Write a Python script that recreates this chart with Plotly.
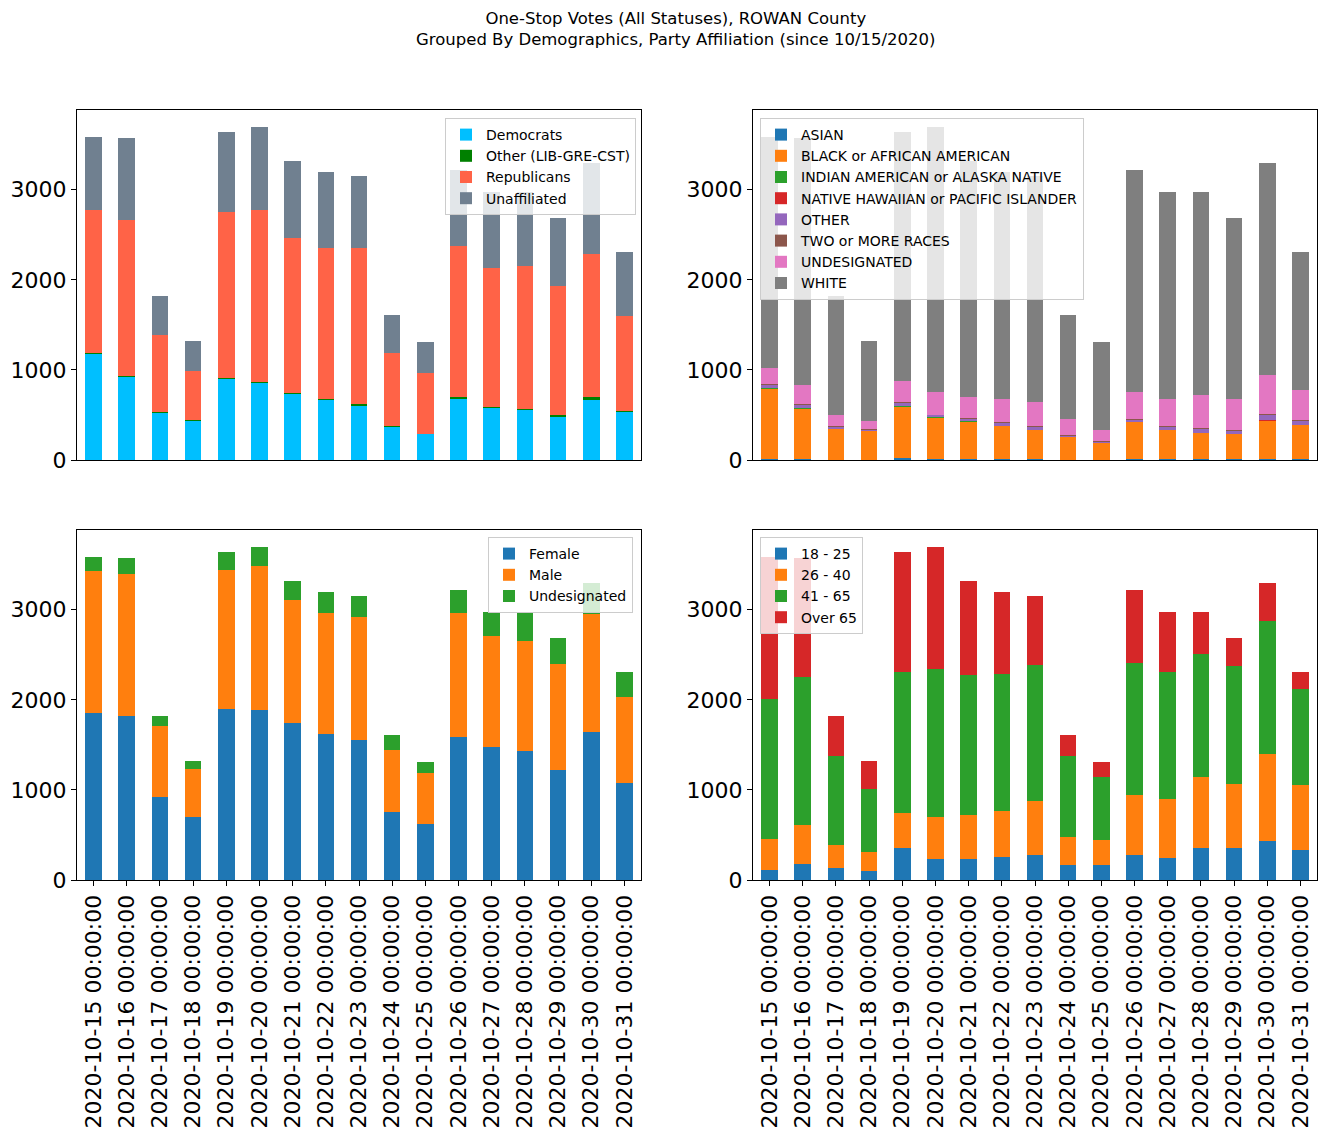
import plotly.graph_objects as go

dates = ["2020-10-15 00:00:00", "2020-10-16 00:00:00", "2020-10-17 00:00:00",
         "2020-10-18 00:00:00", "2020-10-19 00:00:00", "2020-10-20 00:00:00",
         "2020-10-21 00:00:00", "2020-10-22 00:00:00", "2020-10-23 00:00:00",
         "2020-10-24 00:00:00", "2020-10-25 00:00:00", "2020-10-26 00:00:00",
         "2020-10-27 00:00:00", "2020-10-28 00:00:00", "2020-10-29 00:00:00",
         "2020-10-30 00:00:00", "2020-10-31 00:00:00"]

# Party affiliation
democrats = [1181, 926, 526, 437, 904, 859, 733, 667, 600, 370, 289, 678, 578, 559, 478, 667, 533]
other_party = [12, 11, 11, 4, 11, 11, 15, 11, 22, 4, 4, 22, 11, 11, 26, 33, 15]
republicans = [1585, 1730, 856, 552, 1833, 1900, 1711, 1678, 1726, 819, 677, 1670, 1544, 1578, 1422, 1589, 1052]
unaffiliated = [811, 911, 429, 329, 896, 930, 863, 844, 808, 418, 341, 852, 845, 830, 763, 1011, 711]

# Race
asian = [15, 11, 4, 4, 26, 11, 11, 11, 11, 4, 3, 11, 11, 11, 11, 11, 11]
black = [778, 559, 344, 322, 567, 459, 415, 367, 322, 255, 190, 411, 322, 289, 278, 426, 378]
indian = [2, 8, 1, 1, 11, 11, 11, 2, 2, 1, 1, 3, 2, 2, 2, 2, 2]
hawaiian = [0, 0, 1, 0, 1, 0, 1, 0, 0, 0, 0, 1, 0, 0, 0, 1, 0]
other_race = [38, 41, 20, 10, 28, 19, 21, 35, 32, 10, 10, 22, 32, 46, 35, 60, 42]
two_more = [15, 7, 4, 4, 11, 4, 8, 11, 11, 11, 4, 11, 11, 11, 11, 11, 11]
undesignated_race = [174, 207, 126, 96, 234, 252, 233, 252, 266, 178, 129, 297, 300, 363, 341, 433, 334]
white = [2567, 2745, 1322, 885, 2766, 2944, 2622, 2522, 2512, 1152, 974, 2466, 2300, 2256, 2011, 2356, 1533]

# Gender
female = [1856, 1822, 922, 700, 1900, 1889, 1744, 1622, 1556, 756, 622, 1589, 1478, 1433, 1222, 1644, 1078]
male = [1577, 1578, 789, 533, 1544, 1600, 1367, 1345, 1366, 688, 567, 1378, 1233, 1223, 1178, 1312, 955]
undesignated_gender = [156, 178, 111, 89, 200, 211, 211, 233, 234, 167, 122, 255, 267, 322, 289, 344, 278]

# Age
age_18_25 = [111, 178, 133, 100, 356, 233, 233, 256, 278, 167, 167, 278, 244, 356, 356, 433, 333]
age_26_40 = [345, 433, 256, 211, 388, 467, 489, 511, 600, 311, 277, 666, 656, 788, 711, 967, 723]
age_41_65 = [1555, 1637, 989, 700, 1567, 1644, 1556, 1522, 1511, 900, 700, 1467, 1411, 1367, 1311, 1478, 1063]
age_over_65 = [1578, 1330, 444, 311, 1333, 1356, 1044, 911, 767, 233, 167, 811, 667, 467, 311, 422, 192]

panels = [
    ("x", "y", "legend", [
        ("Democrats", democrats, "#00BFFF"),
        ("Other (LIB-GRE-CST)", other_party, "#008000"),
        ("Republicans", republicans, "#FF6347"),
        ("Unaffiliated", unaffiliated, "#708090"),
    ]),
    ("x2", "y2", "legend2", [
        ("ASIAN", asian, "#1f77b4"),
        ("BLACK or AFRICAN AMERICAN", black, "#ff7f0e"),
        ("INDIAN AMERICAN or ALASKA NATIVE", indian, "#2ca02c"),
        ("NATIVE HAWAIIAN or PACIFIC ISLANDER", hawaiian, "#d62728"),
        ("OTHER", other_race, "#9467bd"),
        ("TWO or MORE RACES", two_more, "#8c564b"),
        ("UNDESIGNATED", undesignated_race, "#e377c2"),
        ("WHITE", white, "#7f7f7f"),
    ]),
    ("x3", "y3", "legend3", [
        ("Female", female, "#1f77b4"),
        ("Male", male, "#ff7f0e"),
        ("Undesignated", undesignated_gender, "#2ca02c"),
    ]),
    ("x4", "y4", "legend4", [
        ("18 - 25", age_18_25, "#1f77b4"),
        ("26 - 40", age_26_40, "#ff7f0e"),
        ("41 - 65", age_41_65, "#2ca02c"),
        ("Over 65", age_over_65, "#d62728"),
    ]),
]

fig = go.Figure()
for xa, ya, lg, series in panels:
    for name, vals, col in series:
        fig.add_trace(go.Bar(
            x=dates, y=vals, name=name, xaxis=xa, yaxis=ya, legend=lg,
            width=0.5, marker=dict(color=col, line=dict(width=0)),
        ))

W, H = 1326, 1137
FONT = "DejaVu Sans"

def px(v):
    return v / W

def py(v):
    return 1 - v / H

xdom_l = [px(77), px(641)]
xdom_r = [px(753), px(1317)]
ydom_t = [py(460), py(110)]
ydom_b = [py(880), py(530)]

axis_common = dict(showline=True, mirror=True, linecolor="black", linewidth=1,
                   showgrid=False, zeroline=False)

def xaxis(dom, anchor, labels):
    d = dict(axis_common, domain=dom, anchor=anchor, type="category",
             range=[-0.5, 16.5], categoryorder="array", categoryarray=dates)
    if labels:
        d.update(ticks="outside", ticklen=5, tickwidth=1, tickcolor="black",
                 tickangle=-90, tickfont=dict(family=FONT, size=22, color="black"))
    else:
        d.update(ticks="", showticklabels=False)
    return d

def yaxis(dom, anchor):
    return dict(axis_common, domain=dom, anchor=anchor, range=[0, 3885],
                tickvals=[0, 1000, 2000, 3000], ticks="outside", ticklen=5,
                tickwidth=1, tickcolor="black",
                tickfont=dict(family=FONT, size=22, color="black"))

leg_common = dict(bgcolor="rgba(255,255,255,0.8)", bordercolor="#cccccc",
                  borderwidth=1, font=dict(family=FONT, size=14, color="black"),
                  traceorder="normal", yanchor="top", itemsizing="constant")

fig.update_layout(
    width=W, height=H, template="none",
    paper_bgcolor="white", plot_bgcolor="white",
    margin=dict(l=0, r=0, t=0, b=0),
    barmode="stack", bargap=0.5,
    font=dict(family=FONT, color="black"),
    xaxis=xaxis(xdom_l, "y", False),
    yaxis=yaxis(ydom_t, "x"),
    xaxis2=xaxis(xdom_r, "y2", False),
    yaxis2=yaxis(ydom_t, "x2"),
    xaxis3=xaxis(xdom_l, "y3", True),
    yaxis3=yaxis(ydom_b, "x3"),
    xaxis4=xaxis(xdom_r, "y4", True),
    yaxis4=yaxis(ydom_b, "x4"),
    legend=dict(leg_common, x=px(636), xanchor="right", y=py(118)),
    legend2=dict(leg_common, x=px(760), xanchor="left", y=py(118)),
    legend3=dict(leg_common, x=px(633), xanchor="right", y=py(537)),
    legend4=dict(leg_common, x=px(760), xanchor="left", y=py(537)),
    annotations=[dict(
        text="One-Stop Votes (All Statuses), ROWAN County<br>Grouped By Demographics, Party Affiliation (since 10/15/2020)",
        x=px(676), y=py(7), xref="paper", yref="paper", xanchor="center", yanchor="top",
        showarrow=False, align="center", font=dict(family=FONT, size=16.5, color="black"),
    )],
)

fig.write_html("out.html",
               config={"displayModeBar": False},
               post_script="document.body.style.margin='0';document.body.style.overflow='hidden';")
